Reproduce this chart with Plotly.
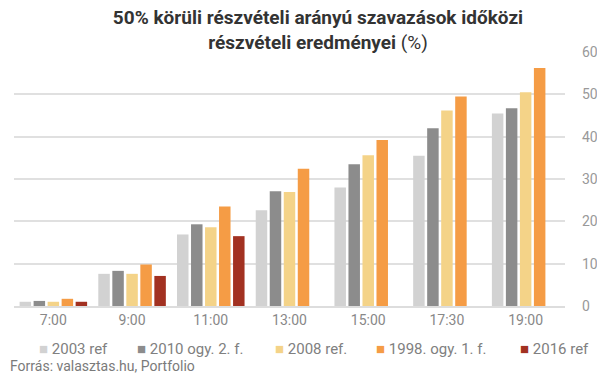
import plotly.graph_objects as go

categories = ["7:00", "9:00", "11:00", "13:00", "15:00", "17:30", "19:00"]
series_names = ["2003 ref", "2010 ogy. 2. f.", "2008 ref.", "1998. ogy. 1. f.", "2016 ref"]
v2003 = [1.0, 7.6, 16.9, 22.6, 28.0, 35.5, 45.5]
v2010 = [1.2, 8.3, 19.3, 27.1, 33.5, 42.0, 46.7]
v2008 = [1.0, 7.6, 18.6, 26.9, 35.6, 46.2, 50.5]
v1998 = [1.7, 9.8, 23.5, 32.4, 39.2, 49.5, 56.2]
v2016 = [1.0, 7.1, 16.5, None, None, None, None]
colors = ["#d2d2d2", "#8c8c8c", "#f4d388", "#f59c45", "#a23121"]
yticks = [0, 10, 20, 30, 40, 50, 60]

# the page body has an 8px margin; figure is sized/offset to compensate
W, H = 597, 370
ML, MR, MT, MB = 6, 40, 44, 72
PW, PH = W - ML - MR, H - MT - MB

fig = go.Figure()
for name, vals, c in zip(series_names, [v2003, v2010, v2008, v1998, v2016], colors):
    fig.add_trace(go.Bar(x=categories, y=vals, name=name, showlegend=False,
                         marker=dict(color=c, line=dict(width=0))))

legend_x = [29, 127, 265, 366, 510]
annotations = []
for name, c, lx in zip(series_names, colors, legend_x):
    annotations.append(dict(
        text=f'<span style="color:{c}">■</span> {name}', xref="paper", yref="paper",
        x=(lx - ML) / PW, xanchor="left", y=(MT + PH - 341) / PH, yanchor="middle",
        showarrow=False, font=dict(size=15, color="#808080")))
annotations.append(dict(text="Forrás: valasztas.hu, Portfolio", xref="paper", yref="paper",
                        x=-ML / PW, xanchor="left", y=(MT + PH - 358) / PH, yanchor="middle",
                        showarrow=False, font=dict(size=14, color="#7a7a7a")))

fig.update_layout(
    width=W, height=H,
    font=dict(family="Roboto", color="#888888", size=14),
    paper_bgcolor="white", plot_bgcolor="white",
    barmode="group", bargap=0.11, bargroupgap=0.18,
    margin=dict(l=ML, r=MR, t=MT, b=MB, autoexpand=False),
    title=dict(
        text="<b>50% körüli részvételi arányú szavazások időközi<br>részvételi eredményei</b> (%)",
        x=310 / W, xanchor="center", xref="container", y=1 - 16 / H, yanchor="middle", yref="container",
        font=dict(family="Roboto", size=19, color="#333333"),
    ),
    xaxis=dict(showgrid=False, showline=True, linecolor="#dddddd", linewidth=2,
               ticks="", tickfont=dict(size=14, color="#888888")),
    yaxis=dict(side="right", range=[0, 60], tickvals=yticks, gridcolor="#e0e0e0", gridwidth=1.5,
               zeroline=False, showline=False, tickfont=dict(size=14, color="#999999"), ticklabelstandoff=16),
    annotations=annotations,
)
fig.write_html("out.html")
